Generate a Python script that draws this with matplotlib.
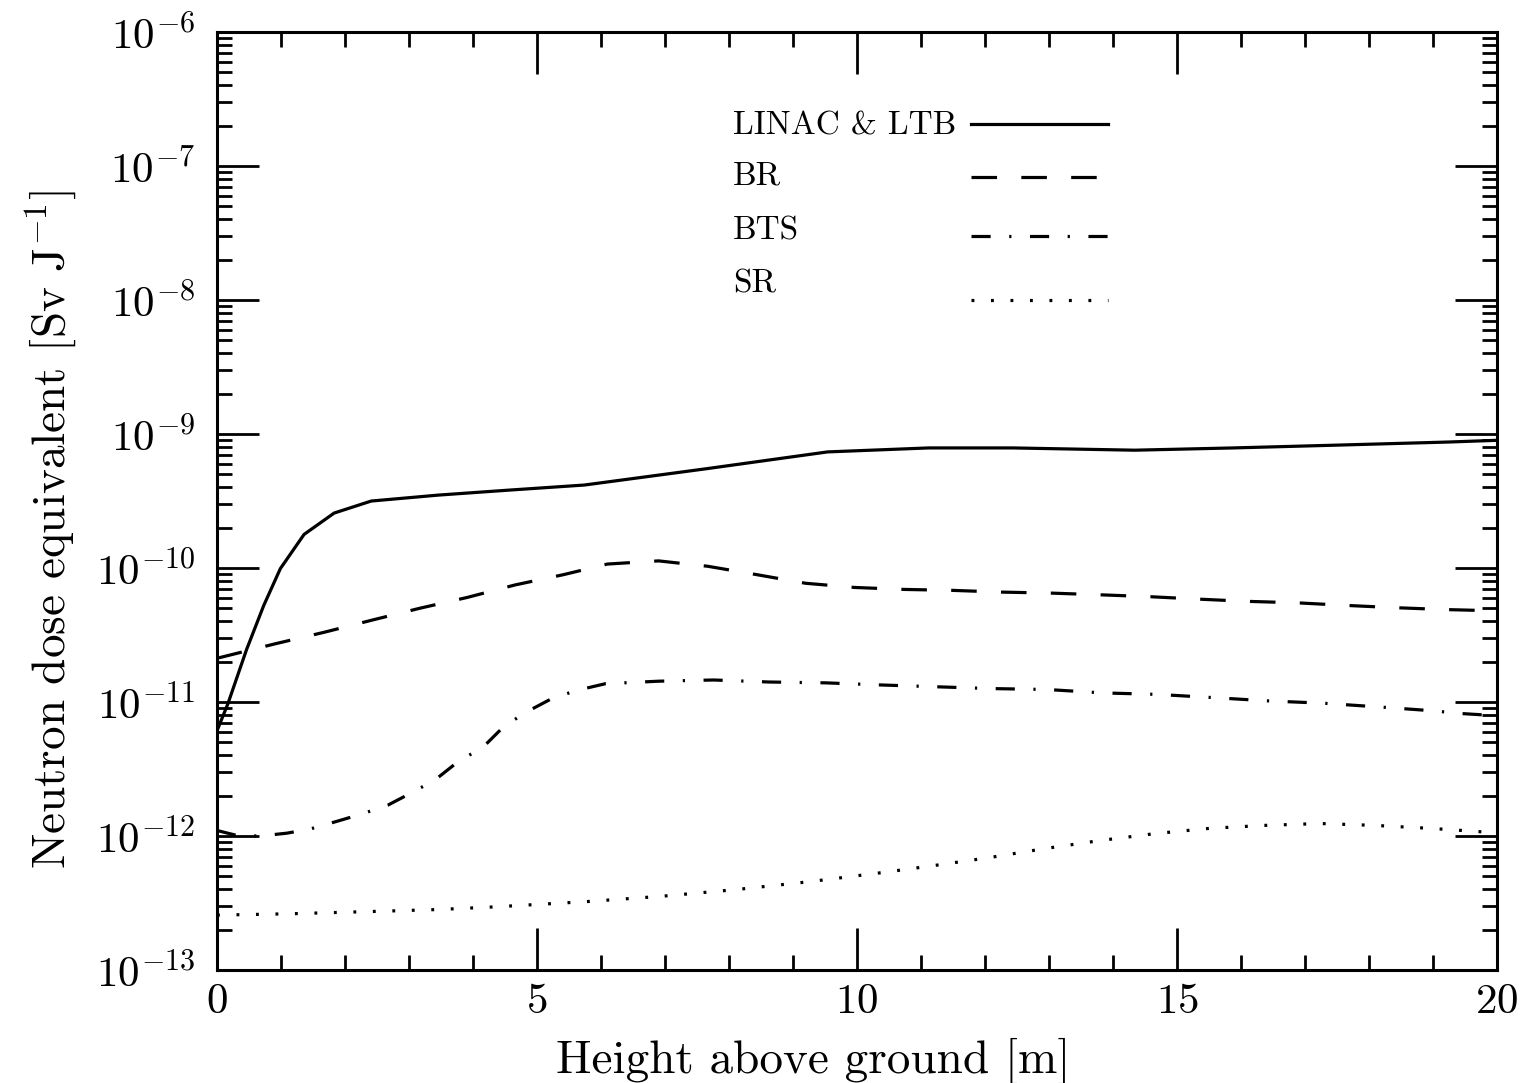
import matplotlib
matplotlib.use("Agg")
import matplotlib.pyplot as plt
from matplotlib.ticker import FixedLocator, MultipleLocator, NullFormatter
import numpy as np

# height above ground [m] and neutron dose equivalent [Sv/J]
x_linac = [0.0, 0.17, 0.46, 0.73, 0.99, 1.36, 1.83, 2.41, 3.46, 4.52, 5.74, 7.64,
           9.54, 11.12, 12.43, 14.34, 15.88, 17.43, 19.24, 20.0]
y_linac = [6.1e-12, 9.7e-12, 2.45e-11, 5.25e-11, 9.9e-11, 1.78e-10, 2.57e-10, 3.16e-10,
           3.5e-10, 3.8e-10, 4.16e-10, 5.5e-10, 7.35e-10, 7.87e-10, 7.87e-10, 7.57e-10,
           7.87e-10, 8.24e-10, 8.71e-10, 8.97e-10]

x_br = [0.0, 0.91, 1.67, 2.41, 3.17, 3.91, 4.66, 5.41, 6.1, 6.9, 7.67, 8.44, 9.2, 9.96,
        10.74, 11.49, 12.25, 13.02, 13.8, 14.57, 15.33, 16.09, 16.87, 17.64, 18.4, 19.17, 20.0]
y_br = [2.12e-11, 2.72e-11, 3.31e-11, 4.07e-11, 5.01e-11, 6.03e-11, 7.48e-11, 8.91e-11,
        1.07e-10, 1.13e-10, 1.03e-10, 8.91e-11, 7.69e-11, 7.16e-11, 6.92e-11, 6.81e-11,
        6.61e-11, 6.5e-11, 6.31e-11, 6.11e-11, 5.86e-11, 5.64e-11, 5.5e-11, 5.26e-11,
        5.06e-11, 4.9e-11, 4.79e-11]

x_bts = [0.0, 0.31, 0.67, 1.09, 1.46, 1.88, 2.28, 2.67, 3.07, 3.41, 3.78, 4.15, 4.48, 4.83,
         5.23, 5.62, 6.07, 6.9, 7.76, 8.63, 9.51, 10.38, 11.23, 12.09, 12.97, 13.83, 14.69,
         15.55, 16.42, 17.28, 18.14, 19.0, 19.45, 20.0]
y_bts = [1.1e-12, 1.01e-12, 1.0e-12, 1.05e-12, 1.13e-12, 1.29e-12, 1.47e-12, 1.7e-12,
         2.14e-12, 2.63e-12, 3.63e-12, 4.57e-12, 6.55e-12, 8.4e-12, 1.06e-11, 1.22e-11,
         1.37e-11, 1.43e-11, 1.46e-11, 1.41e-11, 1.39e-11, 1.34e-11, 1.3e-11, 1.26e-11,
         1.24e-11, 1.17e-11, 1.14e-11, 1.08e-11, 1.02e-11, 9.8e-12, 9.2e-12, 8.6e-12,
         8.2e-12, 7.9e-12]

x_sr = [0.0, 1.15, 2.6, 3.47, 4.34, 5.77, 6.94, 8.1, 9.27, 10.44, 11.19, 12.04, 12.92,
        13.78, 14.64, 15.5, 16.36, 17.24, 18.1, 18.97, 19.83, 20.0]
y_sr = [2.57e-13, 2.63e-13, 2.75e-13, 2.83e-13, 2.96e-13, 3.24e-13, 3.55e-13, 3.98e-13,
        4.57e-13, 5.37e-13, 6.01e-13, 6.87e-13, 8.04e-13, 9.23e-13, 1.04e-12, 1.14e-12,
        1.2e-12, 1.24e-12, 1.2e-12, 1.14e-12, 1.07e-12, 1.06e-12]

labels = ["LINAC & LTB", "BR", "BTS", "SR"]

plt.rcParams['font.family'] = 'cmr10'
plt.rcParams['mathtext.fontset'] = 'cm'
plt.rcParams['axes.formatter.use_mathtext'] = True

lw = 2.3
styles = [dict(linestyle='-'),
          dict(linestyle=(0, (8.0, 7.6))),
          dict(linestyle=(0, (6.0, 5.8, 0.7, 5.8))),
          dict(linestyle=(0, (0.9, 5.2)))]

fig = plt.figure(figsize=(15.25, 10.83), dpi=100)
ax = fig.add_axes([0.1423, 0.1043, 0.9816 - 0.1423, 0.9705 - 0.1043])

series = [(x_linac, y_linac), (x_br, y_br), (x_bts, y_bts), (x_sr, y_sr)]
for (xs, ys), st in zip(series, styles):
    ax.plot(xs, ys, color='black', lw=lw, **st)

ax.set_yscale('log')
ax.set_xlim(0, 20)
ax.set_ylim(1e-13, 1e-6)

# decades 1e-13 .. 1e-6, minor ticks at 2..9 inside each decade
decades = 10.0 ** np.arange(-13, -5)
minors = np.concatenate([d * np.arange(2, 10) for d in decades[:-1]])

ax.xaxis.set_major_locator(MultipleLocator(5))
ax.xaxis.set_minor_locator(MultipleLocator(1))
ax.yaxis.set_major_locator(FixedLocator(decades))
ax.yaxis.set_minor_locator(FixedLocator(minors))
ax.yaxis.set_minor_formatter(NullFormatter())

ax.tick_params(which='both', direction='in', top=True, right=True,
               width=2.0, labelsize=31, colors='black')
ax.tick_params(which='major', length=30)
ax.tick_params(which='minor', length=11, labelleft=False, labelbottom=False)
ax.tick_params(axis='x', which='major', pad=10)
ax.tick_params(axis='y', which='major', pad=16)
for sp in ax.spines.values():
    sp.set_linewidth(2.2)

ax.set_xlabel("Height above ground [m]", fontsize=34)
ax.set_ylabel(r"Neutron dose equivalent [Sv J$^{-1}$]", fontsize=34)
ax.xaxis.set_label_coords(0.466, -0.072)
ax.yaxis.set_label_coords(-0.108, 0.47)

# legend, drawn by hand: labels on the left, line samples aligned on the right
text_y = [0.900, 0.846, 0.788, 0.731]
line_y = [0.902, 0.845, 0.782, 0.714]
for lab, st, ty, ly in zip(labels, styles, text_y, line_y):
    ax.text(0.403, ty, lab, transform=ax.transAxes, fontsize=24,
            va='center', ha='left')
    ax.plot([0.589, 0.696], [ly, ly], transform=ax.transAxes,
            color='black', lw=lw, **st)

fig.savefig('out.png', dpi=100)
